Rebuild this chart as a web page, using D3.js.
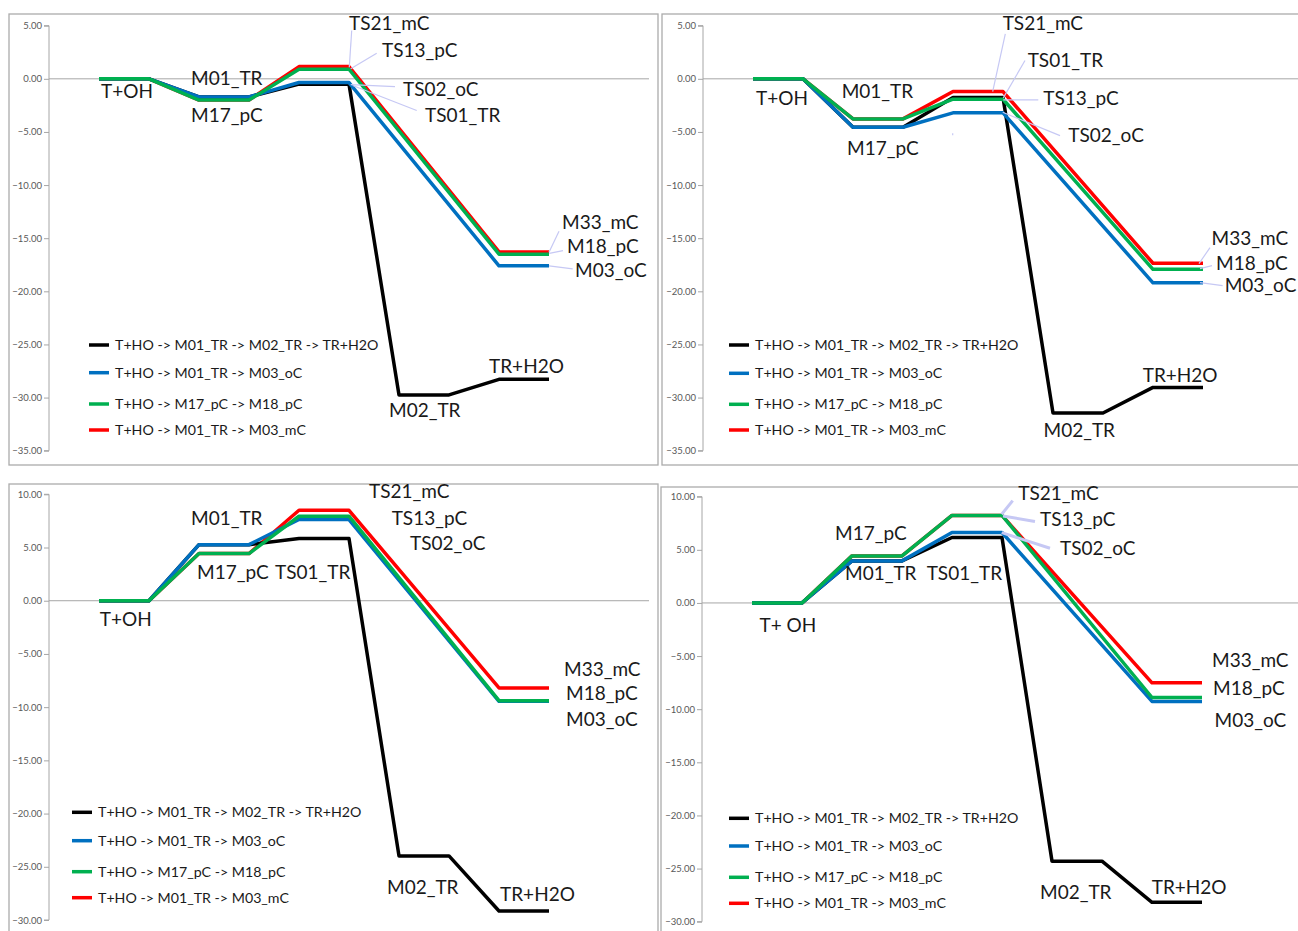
<!DOCTYPE html>
<html>
<head>
<meta charset="utf-8">
<script src="https://cdn.jsdelivr.net/npm/d3@7"></script>
<style>
  body { margin: 0; background: #fff; }
  svg { display: block; }
  .tick-label { font-family: Lato, "Open Sans", sans-serif; font-size: 9.5px; fill: #595959; }
  .state-label { font-family: Lato, "Open Sans", sans-serif; font-size: 19px; fill: #1a1a1a; }
  .legend-label { font-family: Lato, "Open Sans", sans-serif; font-size: 14.2px; fill: #1a1a1a; }
</style>
</head>
<body>
<div class="wrapper"></div>
<script>
// states along the reaction path: reactants, first minimum, TS, M02_TR, products
const states = ["T+OH", "M01_TR / M17_pC", "TS", "M02_TR", "products"]

const seriesNames = [
    "T+HO -> M01_TR -> M02_TR -> TR+H2O",
    "T+HO -> M01_TR -> M03_oC",
    "T+HO -> M17_pC -> M18_pC",
    "T+HO -> M01_TR -> M03_mC",
]

// energies (kcal/mol), order: black, blue, green, red ; null = state not on that path
const topLeftValues = [
    [0, -1.70, -0.50, -29.75, -28.28],
    [0, -1.70, -0.35, null, -17.60],
    [0, -2.00, 0.90, null, -16.50],
    [0, -2.00, 1.15, null, -16.29],
]
const topRightValues = [
    [0, -4.56, -1.75, -31.45, -29.04],
    [0, -4.56, -3.20, null, -19.20],
    [0, -3.77, -1.92, null, -17.93],
    [0, -3.77, -1.20, null, -17.36],
]
const bottomLeftValues = [
    [0, 5.27, 5.84, -23.98, -29.15],
    [0, 5.27, 7.63, null, -9.45],
    [0, 4.43, 7.94, null, -9.39],
    [0, 4.43, 8.50, null, -8.19],
]
const bottomRightValues = [
    [0, 3.96, 6.16, -24.30, -28.18],
    [0, 3.96, 6.63, null, -9.27],
    [0, 4.43, 8.24, null, -8.90],
    [0, 4.43, 8.24, null, -7.52],
]

const yTicksTop = [5, 0, -5, -10, -15, -20, -25, -30, -35]
const yTicksBottom = [10, 5, 0, -5, -10, -15, -20, -25, -30]

const colors = ["#000000", "#0070c0", "#00b050", "#ff0000"]
const drawOrder = [3, 0, 1, 2]

// label anchors given in chart units: [text, x index, energy]
const panels = [
    {
        values: topLeftValues, ticks: yTicksTop,
        box: {x: 9, y: 14, w: 649, h: 451}, axisX: 49, yTop: 25.7, yBottom: 450.7,
        legend: {x: 89, rows: [345, 372.7, 404, 430]},
        labels: [
            ["T+OH", 0.04, -1.85], ["M01_TR", 1.84, -0.54], ["M17_pC", 1.84, -4.11],
            ["TS21_mC", 5.0, 4.64], ["TS13_pC", 5.66, 2.1], ["TS02_oC", 6.08, -1.57],
            ["TS01_TR", 6.52, -4.11], ["M33_mC", 9.26, -14.09], ["M18_pC", 9.36, -16.35],
            ["M03_oC", 9.52, -18.61], ["TR+H2O", 7.8, -27.65], ["M02_TR", 5.8, -31.79],
        ],
        leaders: [
            [5.006, 1.09, 5.054, 4.55], [5.034, 0.94, 5.554, 2.41],
            [5.034, -0.54, 5.92, -0.73], [5.074, -0.63, 6.354, -2.98],
            [9.0, -16.33, 9.2, -14.35], [9.006, -16.42, 9.28, -16.17],
            [9.0, -17.61, 9.474, -17.89],
        ],
        leaderWidth: 1.2,
    },
    {
        values: topRightValues, ticks: yTicksTop,
        box: {x: 662, y: 14, w: 649, h: 451}, axisX: 703, yTop: 25.7, yBottom: 450.7,
        legend: {x: 729, rows: [345, 373.3, 404.3, 430]},
        labels: [
            ["T+OH", 0.06, -2.51], ["M01_TR", 1.774, -1.85], ["M17_pC", 1.88, -7.13],
            ["TS21_mC", 4.994, 4.64], ["TS01_TR", 5.494, 1.16], ["TS13_pC", 5.806, -2.42],
            ["TS02_oC", 6.306, -5.9], ["M33_mC", 9.172, -15.6], ["M18_pC", 9.26, -17.96],
            ["M03_oC", 9.434, -20.03], ["TR+H2O", 7.794, -28.5], ["M02_TR", 5.81, -33.68],
        ],
        leaders: [
            [3.994, -5.12, 3.994, -5.3],
            [4.794, -1.2, 5.046, 4.24], [5.006, -1.79, 5.44, 1.72],
            [5.006, -1.98, 5.706, -1.98], [4.994, -3.15, 6.14, -5.35],
            [8.92, -17.39, 9.14, -15.88], [8.94, -17.86, 9.18, -17.58],
            [8.94, -19.18, 9.392, -19.46],
        ],
        leaderWidth: 1.2,
    },
    {
        values: bottomLeftValues, ticks: yTicksBottom,
        box: {x: 9, y: 484, w: 649, h: 460}, axisX: 49, yTop: 494.3, yBottom: 920,
        legend: {x: 72, rows: [812.3, 840.7, 871.7, 897.7]},
        labels: [
            ["T+OH", 0.014, -2.33], ["M01_TR", 1.84, 7.09], ["M17_pC", 1.96, 2.01],
            ["TS01_TR", 3.52, 2.01], ["TS21_mC", 5.4, 9.63], ["TS13_pC", 5.854, 7.09],
            ["TS02_oC", 6.22, 4.74], ["M33_mC", 9.3, -7.03], ["M18_pC", 9.34, -9.29],
            ["M03_oC", 9.34, -11.74], ["M02_TR", 5.76, -27.56], ["TR+H2O", 8.02, -28.22],
        ],
        leaders: [],
        leaderWidth: 1.2,
    },
    {
        values: bottomRightValues, ticks: yTicksBottom,
        box: {x: 661, y: 487, w: 649, h: 460}, axisX: 702, yTop: 496.7, yBottom: 921.7,
        legend: {x: 729, rows: [818.3, 846, 877.3, 903.3]},
        labels: [
            ["T+ OH", 0.15, -2.73], ["M17_pC", 1.66, 5.93], ["M01_TR", 1.86, 2.17],
            ["TS01_TR", 3.494, 2.17], ["TS21_mC", 5.326, 9.7], ["TS13_pC", 5.76, 7.25],
            ["TS02_oC", 6.16, 4.52], ["M33_mC", 9.2, -6.03], ["M18_pC", 9.22, -8.66],
            ["M03_oC", 9.25, -11.68], ["M02_TR", 5.76, -27.87], ["TR+H2O", 7.994, -27.4],
        ],
        leaders: [
            [4.994, 8.35, 5.214, 9.63], [5.02, 8.19, 5.66, 7.66],
            [4.994, 6.62, 5.96, 5.15],
        ],
        leaderWidth: 3,
    },
]

const width = 1298
const height = 931

const svg = d3.select(".wrapper")
    .append("svg")
    .attr("width", width)
    .attr("height", height)

// each state is drawn as a short plateau: two points per state
const toPoints = vals => {
    const pts = []
    vals.forEach((v, s) => {
        if (v === null) return
        pts.push({i: 2 * s, v})
        pts.push({i: 2 * s + 1, v})
    })
    return pts
}

panels.forEach(p => {
    const g = svg.append("g")

    g.append("rect")
        .attr("x", p.box.x)
        .attr("y", p.box.y)
        .attr("width", p.box.w)
        .attr("height", p.box.h)
        .attr("fill", "#fff")
        .attr("stroke", "#ababab")
        .attr("stroke-width", 1.3)

    const xScale = d3.scaleLinear()
        .domain([-1, 11])
        .range([p.axisX, p.axisX + 600])

    const yScale = d3.scaleLinear()
        .domain(d3.extent(p.ticks))
        .range([p.yBottom, p.yTop])

    // value axis
    const yAxis = d3.axisLeft(yScale)
        .tickValues(p.ticks)
        .tickSize(5)
        .tickPadding(2)
        .tickFormat(d3.format(".2f"))

    const axisG = g.append("g")
        .attr("transform", `translate(${p.axisX},0)`)
        .call(yAxis)
    axisG.select(".domain").attr("stroke", "#a6a6a6").attr("d", `M-5,${p.yTop}H0V${p.yBottom}H-5`)
    axisG.selectAll(".tick line").attr("stroke", "#a6a6a6")
    axisG.selectAll(".tick text")
        .attr("class", "tick-label")
        .attr("fill", null)
    axisG.attr("font-family", null).attr("font-size", null)

    // category axis crossing at zero
    g.append("line")
        .attr("x1", p.axisX)
        .attr("x2", xScale(11))
        .attr("y1", yScale(0))
        .attr("y2", yScale(0))
        .attr("stroke", "#a6a6a6")
        .attr("stroke-width", 1)

    const lineGenerator = d3.line()
        .x(d => xScale(d.i))
        .y(d => yScale(d.v))

    drawOrder.forEach(k => {
        g.append("path")
            .attr("d", lineGenerator(toPoints(p.values[k])))
            .attr("fill", "none")
            .attr("stroke", colors[k])
            .attr("stroke-width", 3.5)
            .attr("stroke-linejoin", "round")
    })

    // leader lines of the data labels
    g.selectAll(".leader")
        .data(p.leaders)
        .enter().append("line")
        .attr("class", "leader")
        .attr("x1", d => xScale(d[0]))
        .attr("y1", d => yScale(d[1]))
        .attr("x2", d => xScale(d[2]))
        .attr("y2", d => yScale(d[3]))
        .attr("stroke", "#c6c8f4")
        .attr("stroke-width", p.leaderWidth)

    g.selectAll(".state-label")
        .data(p.labels)
        .enter().append("text")
        .attr("class", "state-label")
        .attr("x", d => xScale(d[1]))
        .attr("y", d => yScale(d[2]))
        .text(d => d[0])

    // legend
    const legendGroup = g.append("g")
    seriesNames.forEach((name, k) => {
        const row = legendGroup.append("g")
            .attr("transform", `translate(${p.legend.x},${p.legend.rows[k]})`)
        row.append("line")
            .attr("x1", 0)
            .attr("x2", 20)
            .attr("stroke", colors[k])
            .attr("stroke-width", 3.5)
        row.append("text")
            .attr("class", "legend-label")
            .attr("x", 26)
            .attr("dy", "0.35em")
            .text(name)
    })
})
</script>
</body>
</html>
